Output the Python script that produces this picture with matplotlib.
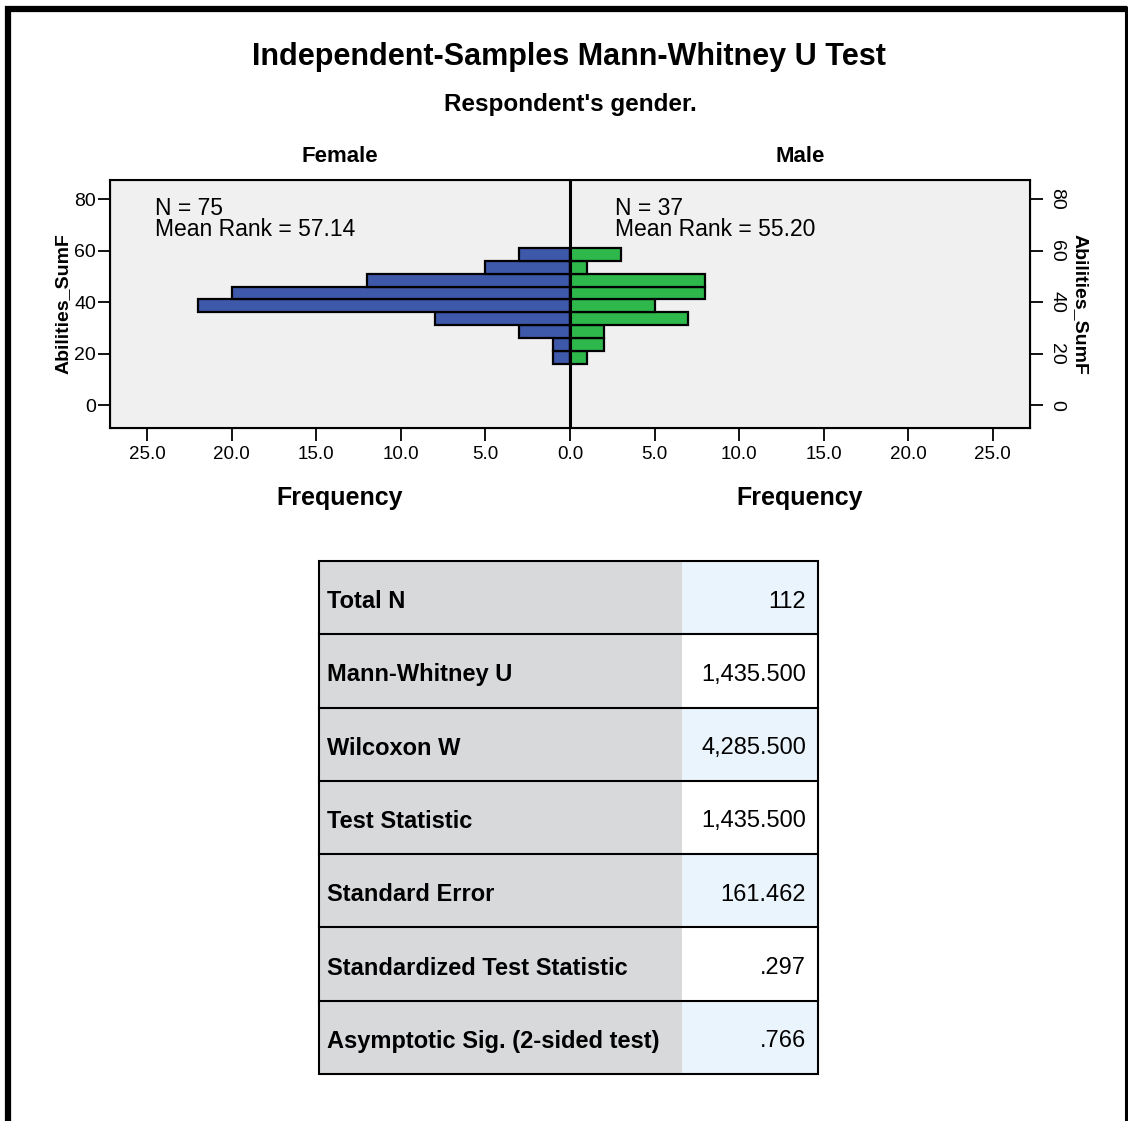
import matplotlib
matplotlib.use("Agg")
import matplotlib.pyplot as plt
from matplotlib.patches import Rectangle
from matplotlib.ticker import FuncFormatter

plt.rcParams['font.family'] = ['Liberation Sans', 'DejaVu Sans']

# ---- data ----
bin_lower = [16, 21, 26, 31, 36, 41, 46, 51, 56]
bin_width = 5
female_counts = [1, 1, 3, 8, 22, 20, 12, 5, 3]
male_counts = [1, 2, 2, 7, 5, 8, 8, 1, 3]
female_n, female_rank = 75, "57.14"
male_n, male_rank = 37, "55.20"
x_ticks = [-25, -20, -15, -10, -5, 0, 5, 10, 15, 20, 25]
y_ticks = [0, 20, 40, 60, 80]
table_labels = ["Total N", "Mann-Whitney U", "Wilcoxon W", "Test Statistic",
                "Standard Error", "Standardized Test Statistic",
                "Asymptotic Sig. (2-sided test)"]
table_values = ["112", "1,435.500", "4,285.500", "1,435.500", "161.462", ".297", ".766"]

W, H = 1128, 1121
fig = plt.figure(figsize=(W / 100, H / 100), dpi=100)
fig.patch.set_facecolor('white')

def fx(px):
    return px / W

def fy(py):
    return 1 - py / H

# ---- histogram axes ----
ax = fig.add_axes([fx(110), fy(428), fx(1030) - fx(110), fy(180) - fy(428)])
ax.set_facecolor('#F0F0F0')
blue = '#3E58AA'
green = '#2EB84B'
ax.barh(bin_lower, [-c for c in female_counts], height=bin_width, align='edge',
        color=blue, edgecolor='black', linewidth=1.6, zorder=2)
ax.barh(bin_lower, male_counts, height=bin_width, align='edge',
        color=green, edgecolor='black', linewidth=1.6, zorder=2)
ax.axvline(0, color='black', linewidth=2.2, zorder=3)
ax.set_xlim(-27.2, 27.2)
ax.set_ylim(-8.9, 87.4)
ax.set_xticks(x_ticks)
ax.xaxis.set_major_formatter(FuncFormatter(lambda v, p: f"{abs(v):.1f}"))
ax.set_yticks(y_ticks)
ax.tick_params(axis='both', direction='out', length=9, width=1.3, labelsize=13.5, colors='black')
ax.tick_params(axis='x', pad=4)
ax.tick_params(axis='y', pad=1, labelsize=14)
for s in ax.spines.values():
    s.set_linewidth(1.5)
ax.set_ylabel("Abilities_SumF", fontsize=14, fontweight='bold', labelpad=2)

ax2 = ax.twinx()
ax2.set_ylim(ax.get_ylim())
ax2.set_yticks(y_ticks)
ax2.tick_params(axis='y', direction='out', length=9, width=1.3, labelsize=14, pad=4)
for lab in ax2.get_yticklabels():
    lab.set_rotation(270)
    lab.set_va('center')
ax2.set_ylabel("Abilities_SumF", fontsize=14, fontweight='bold', rotation=270,
               labelpad=17)

ax.text(0.049, 0.886, f"N = {female_n}", transform=ax.transAxes, fontsize=16.5, va='center')
ax.text(0.049, 0.801, f"Mean Rank = {female_rank}", transform=ax.transAxes, fontsize=16.5, va='center')
ax.text(0.549, 0.886, f"N = {male_n}", transform=ax.transAxes, fontsize=16.5, va='center')
ax.text(0.549, 0.801, f"Mean Rank = {male_rank}", transform=ax.transAxes, fontsize=16.5, va='center')

# ---- titles ----
fig.text(fx(569), fy(57), "Independent-Samples Mann-Whitney U Test", ha='center', va='center',
         fontsize=22, fontweight='bold')
fig.text(fx(570), fy(104), "Respondent's gender.", ha='center', va='center',
         fontsize=17.5, fontweight='bold')
fig.text(fx(340), fy(157), "Female", ha='center', va='center', fontsize=16, fontweight='bold')
fig.text(fx(800), fy(157), "Male", ha='center', va='center', fontsize=16, fontweight='bold')
fig.text(fx(340), fy(498), "Frequency", ha='center', va='center', fontsize=18, fontweight='bold')
fig.text(fx(800), fy(498), "Frequency", ha='center', va='center', fontsize=18, fontweight='bold')

# ---- table ----
tax = fig.add_axes([0, 0, 1, 1])
tax.set_xlim(0, W)
tax.set_ylim(H, 0)
tax.axis('off')
tx0, tx1, tx2 = 319, 682, 818
ty0, ty1 = 561, 1074
rh = (ty1 - ty0) / len(table_labels)
for i, (lab, val) in enumerate(zip(table_labels, table_values)):
    top = ty0 + i * rh
    tax.add_patch(Rectangle((tx0, top), tx1 - tx0, rh, facecolor='#D8D9DB', edgecolor='none'))
    tax.add_patch(Rectangle((tx1, top), tx2 - tx1, rh,
                            facecolor='#EAF4FD' if i % 2 == 0 else 'white', edgecolor='none'))
    tax.text(327, top + rh / 2 + 4, lab, fontsize=17, fontweight='bold', va='center', ha='left')
    tax.text(806, top + rh / 2 + 4, val, fontsize=17, va='center', ha='right')
    if i > 0:
        tax.plot([tx0, tx2], [top, top], color='black', lw=1.5)
tax.add_patch(Rectangle((tx0, ty0), tx2 - tx0, ty1 - ty0, facecolor='none',
                        edgecolor='black', lw=1.5))

# ---- outer frame ----
tax.plot([5, 1127], [9, 9], color='black', lw=4.5, solid_capstyle='butt')
tax.plot([8, 8], [6, H], color='black', lw=4.5, solid_capstyle='butt')
tax.plot([1125.5, 1125.5], [6, H], color='black', lw=2.2, solid_capstyle='butt')

fig.savefig("out.png", dpi=100)
